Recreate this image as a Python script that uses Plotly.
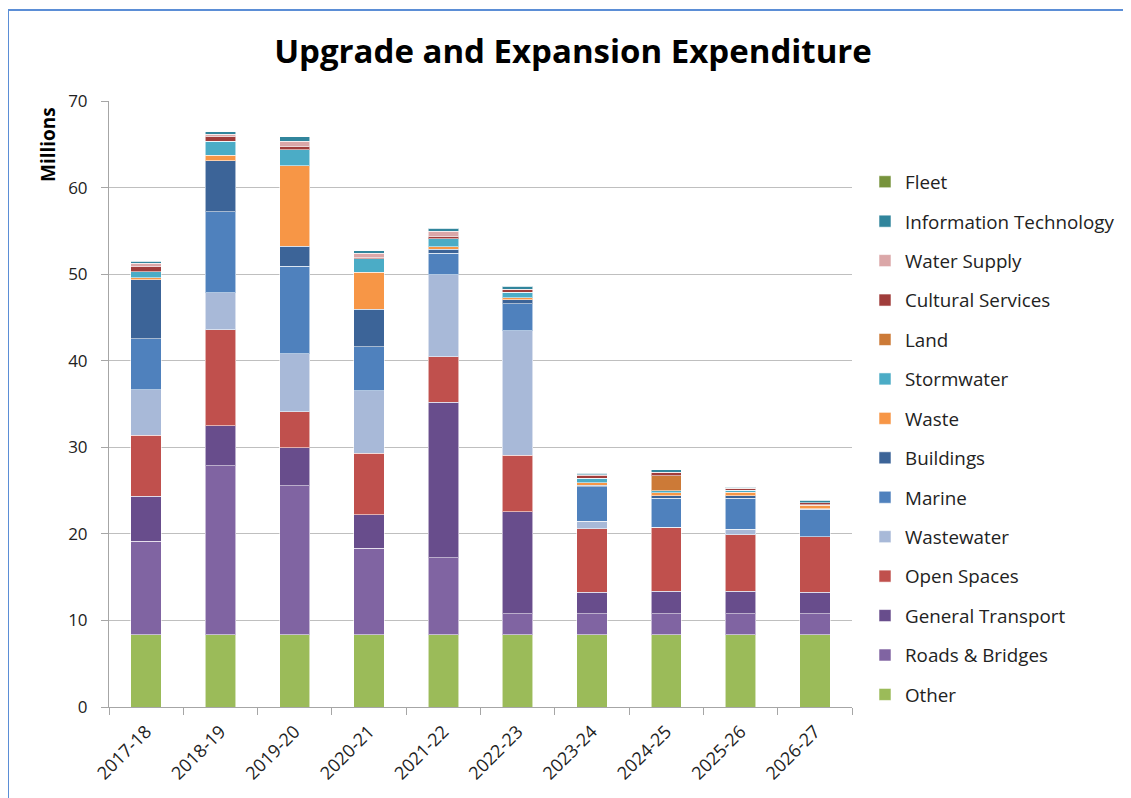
import plotly.graph_objects as go

years = ["2017-18", "2018-19", "2019-20", "2020-21", "2021-22",
         "2022-23", "2023-24", "2024-25", "2025-26", "2026-27"]

other = [8.33, 8.33, 8.33, 8.33, 8.33, 8.33, 8.33, 8.33, 8.33, 8.33]
roads_bridges = [10.8, 19.55, 17.2, 10.0, 8.9, 2.45, 2.45, 2.45, 2.45, 2.45]
general_transport = [5.2, 4.6, 4.4, 3.9, 18.0, 11.8, 2.5, 2.6, 2.6, 2.5]
open_spaces = [7.05, 11.1, 4.2, 7.1, 5.2, 6.5, 7.3, 7.3, 6.5, 6.4]
wastewater = [5.25, 4.3, 6.7, 7.2, 9.5, 14.4, 0.9, 0.1, 0.65, 0.0]
marine = [5.9, 9.3, 10.1, 5.1, 2.5, 3.1, 3.95, 3.35, 3.6, 3.15]
buildings = [6.85, 5.9, 2.3, 4.3, 0.45, 0.45, 0.2, 0.3, 0.3, 0.05]
waste = [0.2, 0.65, 9.3, 4.3, 0.3, 0.25, 0.3, 0.3, 0.4, 0.4]
stormwater = [0.7, 1.65, 1.85, 1.55, 0.9, 0.65, 0.5, 0.25, 0.2, 0.1]
land = [0.0, 0.0, 0.0, 0.0, 0.0, 0.0, 0.0, 1.75, 0.0, 0.0]
cultural_services = [0.6, 0.55, 0.4, 0.2, 0.3, 0.25, 0.3, 0.4, 0.25, 0.2]
water_supply = [0.4, 0.25, 0.55, 0.45, 0.6, 0.1, 0.1, 0.0, 0.0, 0.0]
information_technology = [0.2, 0.25, 0.55, 0.25, 0.3, 0.3, 0.2, 0.3, 0.1, 0.3]
fleet = [0.0, 0.0, 0.0, 0.0, 0.0, 0.0, 0.0, 0.0, 0.0, 0.0]

series = [
    ("Other", other, "#9BBB59"),
    ("Roads & Bridges", roads_bridges, "#8064A2"),
    ("General Transport", general_transport, "#684D8C"),
    ("Open Spaces", open_spaces, "#C0504D"),
    ("Wastewater", wastewater, "#A8B9D8"),
    ("Marine", marine, "#4F81BD"),
    ("Buildings", buildings, "#3C6498"),
    ("Waste", waste, "#F79646"),
    ("Stormwater", stormwater, "#4BACC6"),
    ("Land", land, "#CC7A37"),
    ("Cultural Services", cultural_services, "#A03D3B"),
    ("Water Supply", water_supply, "#DBA7A8"),
    ("Information Technology", information_technology, "#31859C"),
    ("Fleet", fleet, "#77933C"),
]

fig = go.Figure()
n = len(series)
for i, (name, vals, color) in enumerate(series):
    fig.add_trace(go.Bar(
        x=years, y=vals, name=name, legendgroup=name,
        legendrank=100 + (n - i),
        marker=dict(color=color, line=dict(color="rgba(255,255,255,0.55)", width=1)),
    ))

font_main = "Open Sans"

# page body has an 8px margin; plot area target (page px): x 109..852, y 101..707
PX0, PX1, PY0, PY1 = 109, 852, 101, 707


def px(xp):
    return (xp - PX0) / (PX1 - PX0)


def py(yp):
    return (PY1 - yp) / (PY1 - PY0)


fig.update_layout(
    barmode="stack",
    bargap=0.59,
    width=1123, height=790,
    margin=dict(l=PX0 - 8, r=1131 - PX1, t=PY0 - 8, b=798 - PY1, autoexpand=False),
    paper_bgcolor="white",
    plot_bgcolor="white",
    title=dict(text="<b>Upgrade and Expansion Expenditure</b>",
               x=(573 - 8) / 1123, xref="container", xanchor="center",
               y=1 - (51 - 8) / 790, yref="container", yanchor="middle",
               font=dict(family=font_main, size=33, color="black")),
    font=dict(family=font_main, color="#222222"),
    legend=dict(
        traceorder="grouped",
        x=px(865), xanchor="left", y=py(163), yanchor="top",
        font=dict(family=font_main, size=18.8, color="#222222"),
        tracegroupgap=12,
        itemwidth=30,
        bgcolor="rgba(0,0,0,0)",
    ),
    showlegend=True,
    xaxis=dict(
        type="category",
        tickangle=-45,
        ticks="outside", tickson="boundaries", ticklen=7, tickcolor="#A6A6A6",
        showline=True, linecolor="#A6A6A6", linewidth=1,
        tickfont=dict(family=font_main, size=18, color="#222222"),
        ticklabelstandoff=6,
        showgrid=False,
    ),
    yaxis=dict(
        range=[0, 70], dtick=10,
        ticks="outside", ticklen=7, tickcolor="#A6A6A6",
        showline=True, linecolor="#A6A6A6", linewidth=1,
        showgrid=True, gridcolor="#BFBFBF", gridwidth=1,
        tickfont=dict(family=font_main, size=17, color="#222222"),
        ticklabelstandoff=10,
        zeroline=False,
    ),
    annotations=[dict(
        text="<b>Millions</b>", textangle=-90,
        xref="paper", yref="paper",
        x=px(48), y=py(145),
        xanchor="center", yanchor="middle", showarrow=False,
        font=dict(family=font_main, size=19, color="black"),
    )],
    shapes=[
        dict(type="line", xref="paper", yref="paper",
             x0=px(8), x1=px(1140), y0=py(10), y1=py(10),
             line=dict(color="#5B8ED6", width=2)),
        dict(type="line", xref="paper", yref="paper",
             x0=px(8), x1=px(8), y0=py(10), y1=py(805),
             line=dict(color="#5B8ED6", width=2)),
    ],
)

fig.write_html("out.html")
